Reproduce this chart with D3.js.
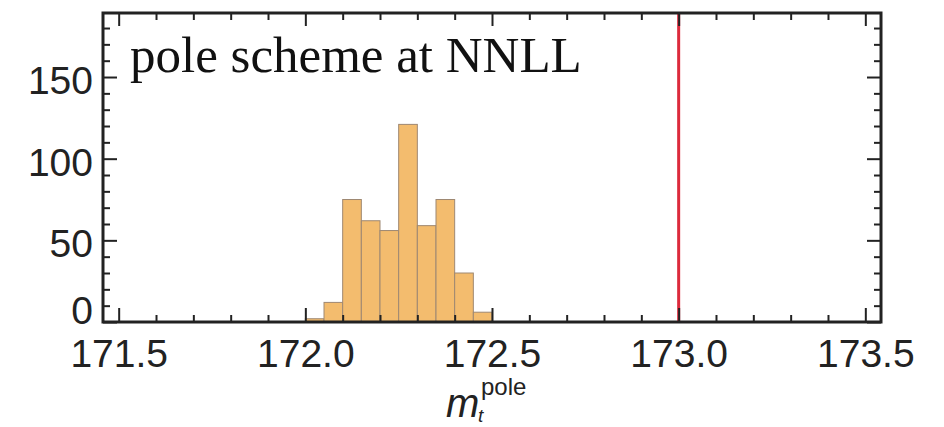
<!DOCTYPE html>
<html>
<head>
<meta charset="utf-8">
<script src="https://cdn.jsdelivr.net/npm/d3@7"></script>
<style>
  body { margin: 0; background: #fff; }
  .tick text { font-family: "Liberation Sans", Arial, sans-serif; font-size: 39px; fill: #222; }
  .axis path.domain { display: none; }
  .axis line { stroke: #222; stroke-width: 2; }
</style>
</head>
<body>
<div id="chart"></div>
<script>
// histogram bins (left edge, width 0.05) and counts
const binStarts = [172.00, 172.05, 172.10, 172.15, 172.20, 172.25, 172.30, 172.35, 172.40, 172.45];
const binCounts = [2, 12, 75, 62, 56, 121, 59, 75, 30, 6];
const binWidth = 0.05;

const xTicks = [171.5, 172.0, 172.5, 173.0, 173.5];
const yTicks = [0, 50, 100, 150];
const refMass = 173.0;
const title = "pole scheme at NNLL";

const width = 944, height = 427;
const frame = {left: 103, right: 881, top: 13, bottom: 322};

const x = d3.scaleLinear().domain([171.458, 173.542]).range([frame.left, frame.right]);
const y = d3.scaleLinear().domain([0, 189.2]).range([frame.bottom, frame.top]);

const svg = d3.select("#chart").append("svg")
    .attr("width", width)
    .attr("height", height);

// bars
svg.append("g").selectAll("rect")
    .data(binStarts)
    .join("rect")
    .attr("x", d => x(d))
    .attr("width", d => x(d + binWidth) - x(d))
    .attr("y", (d, i) => y(binCounts[i]))
    .attr("height", (d, i) => y(0) - y(binCounts[i]))
    .attr("fill", "#f3bc6e")
    .attr("stroke", "#9e8872")
    .attr("stroke-width", 1);

// reference line
svg.append("line")
    .attr("x1", x(refMass)).attr("x2", x(refMass))
    .attr("y1", frame.top).attr("y2", frame.bottom)
    .attr("stroke", "#dc2a3c")
    .attr("stroke-width", 3);

// minor ticks, every 0.1 and every 10
const xMinor = d3.range(171.5, 173.55, 0.1).map(v => +v.toFixed(1)).filter(v => xTicks.indexOf(v) < 0);
const yMinor = d3.range(0, 190, 10).filter(v => v % 50 !== 0);

svg.append("g").attr("class", "axis").attr("transform", "translate(0," + frame.bottom + ")")
    .call(d3.axisBottom(x).tickValues(xMinor).tickSize(-7).tickFormat(""));
svg.append("g").attr("class", "axis").attr("transform", "translate(0," + frame.top + ")")
    .call(d3.axisTop(x).tickValues(xMinor).tickSize(-7).tickFormat(""));
svg.append("g").attr("class", "axis").attr("transform", "translate(" + frame.left + ",0)")
    .call(d3.axisLeft(y).tickValues(yMinor).tickSize(-7).tickFormat(""));
svg.append("g").attr("class", "axis").attr("transform", "translate(" + frame.right + ",0)")
    .call(d3.axisRight(y).tickValues(yMinor).tickSize(-7).tickFormat(""));

// major ticks with labels
const xAxisEl = svg.append("g").attr("class", "axis").attr("transform", "translate(0," + frame.bottom + ")")
    .call(d3.axisBottom(x).tickValues(xTicks).tickSize(-14).tickPadding(17).tickFormat(d3.format(".1f")));
xAxisEl.selectAll("text").attr("dy", "0.71em");

svg.append("g").attr("class", "axis").attr("transform", "translate(0," + frame.top + ")")
    .call(d3.axisTop(x).tickValues(xTicks).tickSize(-13).tickFormat(""));

const yAxisEl = svg.append("g").attr("class", "axis").attr("transform", "translate(" + frame.left + ",0)")
    .call(d3.axisLeft(y).tickValues(yTicks).tickSize(-14).tickPadding(10).tickFormat(d3.format("d")));
yAxisEl.selectAll("text").attr("dy", d => d === 0 ? "0.05em" : "0.42em");

svg.append("g").attr("class", "axis").attr("transform", "translate(" + frame.right + ",0)")
    .call(d3.axisRight(y).tickValues(yTicks).tickSize(-14).tickFormat(""));

// frame
svg.append("rect")
    .attr("x", frame.left).attr("y", frame.top)
    .attr("width", frame.right - frame.left)
    .attr("height", frame.bottom - frame.top)
    .attr("fill", "none")
    .attr("stroke", "#222")
    .attr("stroke-width", 3);

// title inside the frame
svg.append("text")
    .attr("x", 130).attr("y", 72)
    .style("font-family", "'Liberation Serif', 'Times New Roman', serif")
    .style("font-size", "51px")
    .attr("fill", "#111")
    .text(title);

// axis label m_t^pole
const lab = svg.append("text")
    .attr("x", 446).attr("y", 417)
    .style("font-family", "'Liberation Sans', Arial, sans-serif")
    .attr("fill", "#222");
lab.append("tspan").style("font-style", "italic").style("font-size", "40px").text("m");
lab.append("tspan").attr("x", 481).attr("y", 395).style("font-size", "24px").text("pole");
lab.append("tspan").attr("x", 478).attr("y", 422).style("font-style", "italic").style("font-size", "19px").text("t");
</script>
</body>
</html>
